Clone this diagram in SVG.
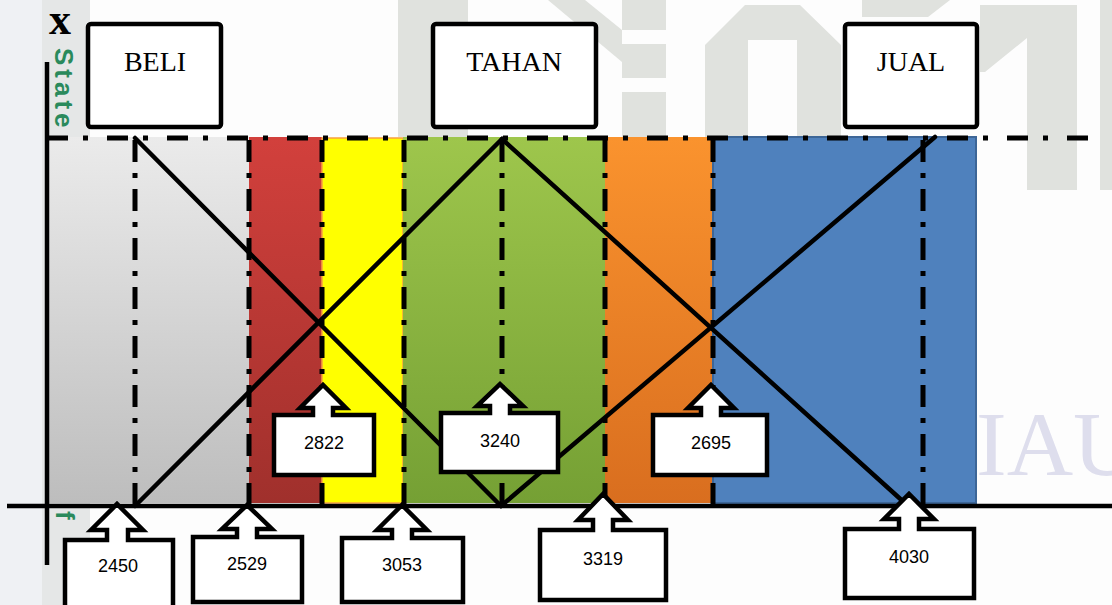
<svg xmlns="http://www.w3.org/2000/svg" width="1112" height="605" viewBox="0 0 1112 605">
<style>
.wm{fill:#e0e2de}
.lbl{fill:#fff;stroke:#000;stroke-width:4.5;stroke-linejoin:round}
.lt{font-family:"Liberation Serif","Times New Roman",serif;font-size:28px;fill:#000;text-anchor:middle}
.num{font-family:"Liberation Sans",Arial,sans-serif;font-size:18px;fill:#000;text-anchor:middle}
.call{fill:#fff;stroke:#000;stroke-width:4.5;stroke-linejoin:miter}
.dd{fill:none;stroke:#000;stroke-width:5;stroke-dasharray:22 11 5 11}
.ln{fill:none;stroke:#000;stroke-width:4.5;stroke-linecap:round}
.green{font-family:"Liberation Sans",Arial,sans-serif;font-size:26px;font-weight:bold;fill:#2a8a5c;letter-spacing:4px}
</style>
<defs>
<linearGradient id="gGrey" x1="0" y1="0" x2="0" y2="1"><stop offset="0" stop-color="#ebebeb"/><stop offset="1" stop-color="#bdbdbd"/></linearGradient>
<linearGradient id="gRed" x1="0" y1="0" x2="0" y2="1"><stop offset="0" stop-color="#d2403c"/><stop offset="1" stop-color="#a0302c"/></linearGradient>
<linearGradient id="gGreen" x1="0" y1="0" x2="0" y2="1"><stop offset="0" stop-color="#9ec64c"/><stop offset="1" stop-color="#75a034"/></linearGradient>
<linearGradient id="gOrange" x1="0" y1="0" x2="0" y2="1"><stop offset="0" stop-color="#fa932e"/><stop offset="1" stop-color="#d96e1f"/></linearGradient>
</defs>

<rect x="0" y="0" width="1112" height="605" fill="#fdfdfd"/>

<g id="watermark">
<rect x="0" y="0" width="42" height="605" fill="#eff1f4"/>
<rect x="42" y="0" width="48" height="605" fill="#e5e7e7"/>
<rect class="wm" x="398" y="0" width="70" height="137"/>
<polygon class="wm" points="548,0 585,0 622,30 622,62"/>
<rect class="wm" x="622" y="0" width="44" height="30"/>
<rect class="wm" x="622" y="44" width="44" height="34"/>
<rect class="wm" x="622" y="92" width="44" height="45"/>
<path class="wm" fill-rule="evenodd" d="M705,137 L705,45 L745,5 L800,5 L841,45 L841,137 Z M748,137 L748,40 L797,40 L797,137 Z"/>
<polygon class="wm" points="862,0 950,0 928,17 862,17"/>
<polygon class="wm" points="980,5 1077,5 1077,190 1027,190 1027,38 985,72 980,72"/>
<rect class="wm" x="1100" y="0" width="12" height="190"/>
<text x="976" y="475" font-family="Liberation Serif,serif" font-size="92" fill="#dedeed">IAU</text>
<text class="green" transform="translate(55,48) rotate(90)">State</text>
<text class="green" transform="translate(56,511) rotate(90)">f</text>
</g>

<g id="bands">
<rect x="47" y="137" width="202" height="366" fill="url(#gGrey)"/>
<rect x="249" y="137" width="73" height="366" fill="url(#gRed)"/>
<rect x="322" y="138" width="81" height="365" fill="#ffff00" stroke="#f7a040" stroke-width="1.5"/>
<rect x="403" y="137" width="202" height="366" fill="url(#gGreen)"/>
<rect x="605" y="137" width="108" height="366" fill="url(#gOrange)"/>
<rect x="713" y="137" width="263" height="366" fill="#4f81bd" stroke="#3d6697" stroke-width="2"/>
</g>

<g id="guides">
<line class="dd" x1="47" y1="138" x2="1090" y2="138" style="stroke-dasharray:21 15 5 19"/>
<line class="dd" x1="135" y1="140" x2="135" y2="506"/>
<line class="dd" x1="249" y1="140" x2="249" y2="506"/>
<line class="dd" x1="322" y1="140" x2="322" y2="506"/>
<line class="dd" x1="404" y1="140" x2="404" y2="506"/>
<line class="dd" x1="502" y1="140" x2="502" y2="506"/>
<line class="dd" x1="605" y1="140" x2="605" y2="506"/>
<line class="dd" x1="713" y1="140" x2="713" y2="506"/>
<line class="dd" x1="923" y1="140" x2="923" y2="506"/>
</g>

<g id="connectors">
<line class="ln" x1="135" y1="138" x2="501" y2="506"/>
<line class="ln" x1="135" y1="506" x2="502" y2="139"/>
<line class="ln" x1="502" y1="139" x2="907" y2="505"/>
<line class="ln" x1="935" y1="137" x2="501" y2="506"/>
</g>

<g id="axes">
<line x1="47" y1="62" x2="47" y2="565" stroke="#000" stroke-width="4.5"/>
<line x1="7" y1="506" x2="1112" y2="506" stroke="#000" stroke-width="4.5"/>
<text x="49" y="34" font-family="Liberation Serif,serif" font-weight="bold" font-size="44" fill="#000">x</text>
</g>

<g id="node-beli"><rect class="lbl" x="88" y="24" width="133" height="103" rx="3"/><text class="lt" x="155" y="71">BELI</text></g>
<g id="node-tahan"><rect class="lbl" x="433" y="24" width="163" height="103" rx="3"/><text class="lt" x="514" y="71">TAHAN</text></g>
<g id="node-jual"><rect class="lbl" x="845" y="24" width="132" height="103" rx="3"/><text class="lt" x="911" y="71">JUAL</text></g>

<g id="callout-2822"><path class="call" d="M274,415 L313,415 L313,408 L300,408 L323,385 L346,408 L333,408 L333,415 L374,415 L374,475 L274,475 Z"/><text class="num" x="324" y="449">2822</text></g>
<g id="callout-3240"><path class="call" d="M441,413 L490,413 L490,406 L477,406 L500,384 L523,406 L510,406 L510,413 L558,413 L558,472 L441,472 Z"/><text class="num" x="500" y="447">3240</text></g>
<g id="callout-2695"><path class="call" d="M653,415 L701,415 L701,408 L688,408 L711,385 L734,408 L721,408 L721,415 L767,415 L767,475 L653,475 Z"/><text class="num" x="711" y="449">2695</text></g>

<g id="callout-2450"><path class="call" d="M65,540 L107,540 L107,530 L91,530 L117,504 L143,530 L128,530 L128,540 L173,540 L173,615 L65,615 Z"/><text class="num" x="118" y="572">2450</text></g>
<g id="callout-2529"><path class="call" d="M193,537 L237,537 L237,529 L222,529 L247,505 L272,529 L257,529 L257,537 L302,537 L302,602 L193,602 Z"/><text class="num" x="247" y="570">2529</text></g>
<g id="callout-3053"><path class="call" d="M342,538 L392,538 L392,530 L377,530 L402,505 L427,530 L412,530 L412,538 L463,538 L463,602 L342,602 Z"/><text class="num" x="402" y="571">3053</text></g>
<g id="callout-3319"><path class="call" d="M540,530 L593,530 L593,520 L578,520 L603,494 L628,520 L613,520 L613,530 L666,530 L666,600 L540,600 Z"/><text class="num" x="603" y="565">3319</text></g>
<g id="callout-4030"><path class="call" d="M845,529 L899,529 L899,519 L884,519 L909,494 L934,519 L919,519 L919,529 L974,529 L974,598 L845,598 Z"/><text class="num" x="909" y="563">4030</text></g>
</svg>
